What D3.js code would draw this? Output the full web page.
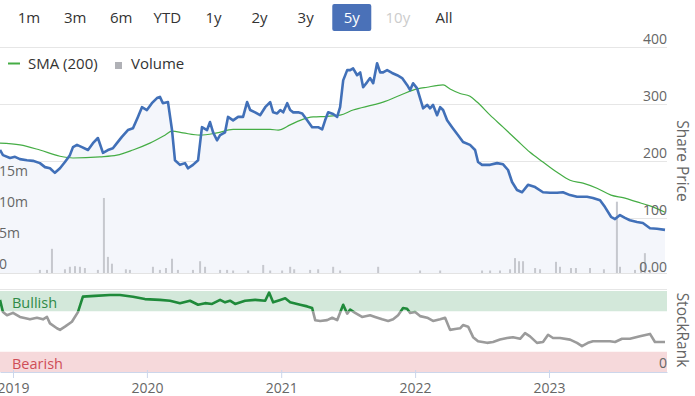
<!DOCTYPE html>
<html><head><meta charset="utf-8">
<script src="https://cdn.jsdelivr.net/npm/d3@7"></script>
<style>body{margin:0;background:#fff}svg{display:block;font-family:"Open Sans",sans-serif}</style>
</head><body><svg id="c" width="695" height="396"></svg>
<script>
// ---------- DATA ----------
const rangeButtons = ["1m","3m","6m","YTD","1y","2y","3y","5y","10y","All"];
const selectedRange = "5y";
const disabledRange = "10y";
const yearTicks = [2019, 2020, 2021, 2022, 2023];
const priceTicks = [0, 100, 200, 300, 400];
const volumeTicks = [0, 5, 10, 15]; // millions
const rankTickLabels = [0];
const bullishFrom = 75, bearishTo = 25;

// dates as decimal years
const priceDates = [2018.903,2018.925,2018.978,2019.015,2019.052,2019.104,2019.149,2019.201,2019.239,2019.276,2019.313,2019.351,2019.388,2019.425,2019.448,2019.478,2019.515,2019.560,2019.597,2019.634,2019.672,2019.709,2019.746,2019.776,2019.813,2019.858,2019.896,2019.933,2019.963,2020.000,2020.037,2020.075,2020.097,2020.119,2020.157,2020.187,2020.209,2020.246,2020.284,2020.306,2020.343,2020.381,2020.410,2020.448,2020.470,2020.493,2020.522,2020.545,2020.582,2020.604,2020.642,2020.679,2020.716,2020.746,2020.769,2020.806,2020.843,2020.881,2020.918,2020.940,2020.970,2020.993,2021.015,2021.045,2021.067,2021.090,2021.127,2021.157,2021.194,2021.231,2021.276,2021.306,2021.328,2021.351,2021.388,2021.418,2021.440,2021.463,2021.493,2021.515,2021.537,2021.567,2021.590,2021.612,2021.642,2021.664,2021.687,2021.716,2021.739,2021.761,2021.791,2021.828,2021.866,2021.903,2021.940,2021.963,2021.985,2022.015,2022.037,2022.060,2022.090,2022.112,2022.134,2022.164,2022.187,2022.209,2022.239,2022.276,2022.321,2022.358,2022.410,2022.448,2022.470,2022.500,2022.560,2022.612,2022.657,2022.694,2022.724,2022.761,2022.799,2022.843,2022.896,2022.955,2023.007,2023.060,2023.104,2023.157,2023.209,2023.284,2023.328,2023.381,2023.418,2023.463,2023.493,2023.530,2023.567,2023.604,2023.657,2023.701,2023.754,2023.806,2023.866];
const priceValues = [219,210,205,207,203,201,200,196,189,187,179,187,198,210,224,228,224,219,231,240,214,219,222,231,242,254,257,277,294,289,301,310,312,301,303,254,201,193,196,187,193,201,259,254,268,250,236,245,250,277,271,277,277,303,289,285,280,294,303,285,283,289,285,301,289,285,285,283,271,259,259,255,271,285,282,277,294,341,359,359,362,350,355,329,338,345,336,371,355,355,359,354,350,345,333,324,336,327,310,292,298,292,298,280,294,289,271,259,245,233,228,219,198,193,193,196,194,184,163,149,145,158,154,145,144,144,145,140,137,137,135,131,119,102,98,105,100,96,93,91,82,81,79];

const smaDates = [2018.903,2019.052,2019.201,2019.351,2019.448,2019.649,2019.776,2019.896,2020.022,2020.134,2020.187,2020.269,2020.396,2020.522,2020.642,2020.769,2020.918,2020.978,2021.067,2021.142,2021.239,2021.343,2021.440,2021.537,2021.687,2021.761,2021.888,2021.985,2022.090,2022.209,2022.261,2022.336,2022.410,2022.463,2022.560,2022.657,2022.761,2022.858,2022.955,2023.060,2023.157,2023.254,2023.358,2023.463,2023.560,2023.657,2023.754,2023.866];
const smaValues = [231,228,219,208,205,207,210,219,231,245,252,249,245,249,255,255,255,254,263,271,277,278,280,289,298,303,315,324,329,333,326,318,313,303,280,259,236,215,198,180,166,161,152,140,135,128,121,110];

const volumeDates = [2019.201,2019.254,2019.291,2019.388,2019.425,2019.463,2019.500,2019.537,2019.634,2019.679,2019.709,2019.739,2019.843,2019.873,2020.045,2020.097,2020.142,2020.187,2020.231,2020.343,2020.396,2020.433,2020.545,2020.597,2020.642,2020.754,2020.866,2020.918,2021.007,2021.067,2021.097,2021.216,2021.276,2021.388,2021.440,2021.724,2022.037,2022.187,2022.500,2022.560,2022.634,2022.709,2022.746,2022.776,2022.806,2022.896,2022.933,2023.052,2023.082,2023.164,2023.201,2023.306,2023.410,2023.507,2023.530,2023.642,2023.687,2023.716,2023.754];
const volumeValues = [0.5,0.5,3.9,0.6,1.0,1.1,1.0,0.8,0.5,12.1,2.6,1.5,0.6,0.5,1.0,0.5,0.8,2.3,0.5,0.5,1.9,1.0,0.5,0.5,0.4,0.4,1.3,0.4,0.4,1.0,0.6,0.5,0.6,1.0,0.4,1.0,0.4,0.4,0.4,0.4,0.4,0.6,2.4,1.9,1.9,0.8,0.6,1.8,1.0,0.8,0.8,0.8,0.6,11.5,1.0,0.5,1.5,3.2,0.5];

const rankDates = [2018.903,2018.925,2018.955,2019.000,2019.052,2019.127,2019.179,2019.224,2019.254,2019.276,2019.328,2019.351,2019.388,2019.440,2019.485,2019.522,2019.612,2019.724,2019.799,2019.896,2019.985,2020.097,2020.172,2020.246,2020.321,2020.381,2020.433,2020.485,2020.545,2020.582,2020.619,2020.657,2020.731,2020.806,2020.881,2020.910,2020.940,2020.993,2021.030,2021.067,2021.142,2021.194,2021.231,2021.254,2021.291,2021.343,2021.381,2021.418,2021.463,2021.493,2021.515,2021.552,2021.604,2021.664,2021.701,2021.754,2021.799,2021.836,2021.873,2021.910,2021.940,2021.963,2022.000,2022.037,2022.090,2022.134,2022.187,2022.224,2022.261,2022.299,2022.336,2022.358,2022.396,2022.433,2022.470,2022.537,2022.582,2022.634,2022.687,2022.731,2022.784,2022.821,2022.858,2022.910,2022.955,2022.993,2023.030,2023.082,2023.157,2023.209,2023.246,2023.291,2023.328,2023.403,2023.455,2023.493,2023.545,2023.604,2023.679,2023.754,2023.791,2023.866];
const rankValues = [89,74,70,73,68,65,67,65,68,60,54,52,56,62,74,93,94,95,95,93,90,89,88,85,88,83,85,84,89,86,88,84,88,89,88,98,86,89,91,86,83,81,79,64,63,64,67,64,83,72,77,73,68,70,68,65,63,65,70,79,78,73,74,69,67,63,65,67,52,53,54,58,56,43,38,36,37,40,42,43,41,48,44,36,37,46,42,42,40,36,32,36,38,38,38,37,41,41,44,47,37,37];

// ---------- HELPERS ----------
function decToDate(d){const y=Math.floor(d);const s=Date.UTC(y,0,1),e=Date.UTC(y+1,0,1);return new Date(s+(d-y)*(e-s));}
const zip=(ds,vs)=>ds.map((d,i)=>({date:decToDate(d),value:vs[i]}));
const price=zip(priceDates,priceValues), sma=zip(smaDates,smaValues), vol=zip(volumeDates,volumeValues), rank=zip(rankDates,rankValues);

const svg=d3.select("#c");
const W=667;
const x=d3.scaleUtc().domain([decToDate(2018.903),decToDate(2023.881)]).range([0,W]);
const yP=d3.scaleLinear().domain([0,400]).range([275,46.7]);
const yV=d3.scaleLinear().domain([0,5]).range([273,242]);
const yR=d3.scaleLinear().domain([0,100]).range([372,291]);
const priceBottom=273;

// ---------- RANGE SELECTOR ----------
const bx=d3.scalePoint().domain(rangeButtons).range([29,444]);
const btn=svg.append("g");
btn.append("rect").attr("x",bx(selectedRange)-19.5).attr("y",4).attr("width",39).attr("height",27).attr("rx",2).attr("fill","#4a71b8");
btn.selectAll("text").data(rangeButtons).join("text")
  .attr("x",d=>bx(d)).attr("y",22.5).attr("text-anchor","middle").attr("font-size",15)
  .attr("fill",d=>d===selectedRange?"#fff":d===disabledRange?"#cccccc":"#333")
  .text(d=>d);

// ---------- PRICE PANEL ----------
svg.append("defs").html(`<clipPath id="pc"><rect x="0" y="40" width="${W}" height="${priceBottom-40}"/></clipPath>
<clipPath id="rg"><rect x="0" y="280" width="${W}" height="${yR(bullishFrom)-280}"/></clipPath>
<clipPath id="rr"><rect x="0" y="${yR(bullishFrom)}" width="${W}" height="${372-yR(bullishFrom)}"/></clipPath>`);

const grid=svg.append("g");
grid.selectAll("line").data(priceTicks.filter(d=>d>0)).join("line")
  .attr("x1",0).attr("x2",W).attr("y1",d=>Math.round(yP(d))+0.5).attr("y2",d=>Math.round(yP(d))+0.5)
  .attr("stroke","#e6e6e6");

const pg=svg.append("g").attr("clip-path","url(#pc)");
pg.append("path").datum(price)
  .attr("d",d3.area().x(d=>x(d.date)).y0(priceBottom).y1(d=>yP(d.value)))
  .attr("fill","#f4f6fb");
pg.selectAll("rect.v").data(vol).join("rect").attr("class","v")
  .attr("x",d=>x(d.date)-1).attr("width",2)
  .attr("y",d=>yV(d.value)).attr("height",d=>priceBottom-yV(d.value))
  .attr("fill","#c6c8ce");
pg.append("path").datum(sma)
  .attr("d",d3.line().x(d=>x(d.date)).y(d=>yP(d.value)).curve(d3.curveMonotoneX))
  .attr("fill","none").attr("stroke","#45ad45").attr("stroke-width",1.2);
pg.append("path").datum(price)
  .attr("d",d3.line().x(d=>x(d.date)).y(d=>yP(d.value)))
  .attr("fill","none").attr("stroke","#4170b8").attr("stroke-width",2.6).attr("stroke-linejoin","round");

svg.append("line").attr("x1",0).attr("x2",W).attr("y1",priceBottom+0.5).attr("y2",priceBottom+0.5).attr("stroke","#e3e3e3");

// price axis labels
svg.append("g").selectAll("text").data(priceTicks).join("text")
  .attr("x",W).attr("y",d=>yP(d)-3).attr("text-anchor","end").attr("font-size",14).attr("fill","#666")
  .text(d=>d===0?"0.00":d3.format("d")(d));
// volume axis labels
svg.append("g").selectAll("text").data(volumeTicks).join("text")
  .attr("x",-1).attr("y",d=>yV(d)-4).attr("font-size",14).attr("fill","#666")
  .text(d=>d===0?"0":d+"m");

svg.append("text").attr("transform","translate(677,161) rotate(90)").attr("text-anchor","middle")
  .attr("font-size",15.5).attr("fill","#666").text("Share Price");

// legend
const lg=svg.append("g");
lg.append("line").attr("x1",8).attr("x2",20).attr("y1",63.5).attr("y2",63.5).attr("stroke","#45ad45").attr("stroke-width",2);
lg.append("text").attr("x",28).attr("y",68.5).attr("font-size",15).attr("fill","#333").text("SMA (200)");
lg.append("rect").attr("x",115).attr("y",62).attr("width",7).attr("height",7).attr("fill","#b0b1b6");
lg.append("text").attr("x",131).attr("y",68.5).attr("font-size",15).attr("fill","#333").text("Volume");

// ---------- STOCKRANK PANEL ----------
svg.append("line").attr("x1",0).attr("x2",W).attr("y1",289.5).attr("y2",289.5).attr("stroke","#e6e6e6");
svg.append("rect").attr("x",0).attr("width",W).attr("y",yR(100)).attr("height",yR(bullishFrom)-yR(100)).attr("fill","#d3e8da");
svg.append("rect").attr("x",0).attr("width",W).attr("y",yR(bearishTo)).attr("height",yR(0)-yR(bearishTo)).attr("fill","#f6d9db");
svg.append("text").attr("x",12).attr("y",308).attr("font-size",14.5).attr("fill","#2f8a47").text("Bullish");
svg.append("text").attr("x",12).attr("y",369).attr("font-size",14.5).attr("fill","#cf4d57").text("Bearish");

const rl=d3.line().x(d=>x(d.date)).y(d=>yR(d.value));
svg.append("path").datum(rank).attr("d",rl).attr("clip-path","url(#rr)")
  .attr("fill","none").attr("stroke","#9b9b9b").attr("stroke-width",2.6).attr("stroke-linejoin","round");
svg.append("path").datum(rank).attr("d",rl).attr("clip-path","url(#rg)")
  .attr("fill","none").attr("stroke","#1f8a3a").attr("stroke-width",2.6).attr("stroke-linejoin","round");

svg.append("g").selectAll("text").data(rankTickLabels).join("text")
  .attr("x",W).attr("y",d=>yR(d)-4).attr("text-anchor","end").attr("font-size",14).attr("fill","#666").text(d=>d);
svg.append("text").attr("transform","translate(677,330) rotate(90)").attr("text-anchor","middle")
  .attr("font-size",15.5).attr("fill","#666").text("StockRank");

// x axis
const xa=svg.append("g").attr("transform","translate(0,372)")
  .call(d3.axisBottom(x).tickValues(yearTicks.map(decToDate)).tickFormat(d3.utcFormat("%Y")).tickSize(6).tickSizeOuter(0).tickPadding(5));
xa.select(".domain").attr("stroke","#ccd6eb");
xa.selectAll(".tick line").attr("stroke","#ccd6eb").attr("y1",-2);
xa.selectAll(".tick text").attr("font-size",14).attr("fill","#666").attr("font-family","Open Sans, sans-serif");
</script></body></html>
